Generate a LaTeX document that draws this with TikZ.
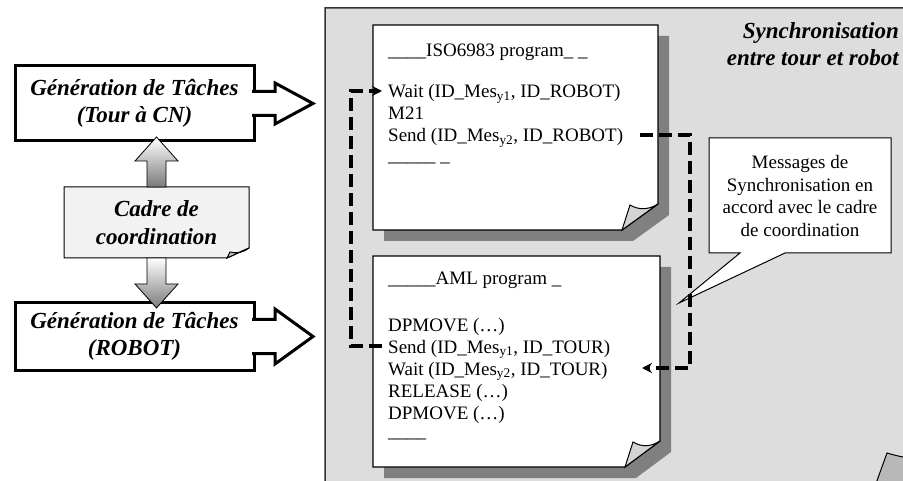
\documentclass[tikz,border=0pt]{standalone}
\usepackage{fontspec}
\setmainfont{Liberation Serif}
\usetikzlibrary{positioning, arrows.meta}

\begin{document}
\begin{tikzpicture}[x=1pt, y=-1pt,
  task/.style={draw, line width=3pt, fill=white, minimum width=239pt, outer sep=0pt, inner sep=0pt, align=center, font=\fontsize{23}{27.5}\selectfont\bfseries\itshape},
  taskout/.style={draw, fill=white, line width=3pt, line join=miter},
  fat/.style={draw=black, line width=0.8pt, top color=white, bottom color=black!52},
  panel/.style={fill=black!13.5, draw=black!80, line width=1.5pt},
  page/.style={draw=black, line width=1.3pt, fill=white},
  cadrepage/.style={draw=black, line width=1pt, fill=black!5},
  shadow/.style={fill=black!50},
  curl/.style={draw=black, line width=1pt, fill=black!17},
  bubble/.style={draw=black, line width=1pt, fill=white},
  code/.style={anchor=base west, inner sep=0pt, text height=14pt, text depth=0pt, font=\fontsize{19}{22}\selectfont},
  msgtext/.style={align=center, inner sep=0pt, font=\fontsize{19}{22.5}\selectfont},
  title/.style={align=right, inner sep=0pt, font=\fontsize{23}{26.5}\selectfont\bfseries\itshape},
  sync/.style={line width=3.2pt, dash pattern=on 13pt off 6pt, -{Stealth[length=10pt, width=10pt]}}]
  \useasboundingbox (0,0) rectangle (903,481);
  \clip (0,0) rectangle (903,481);
  % panel
  \draw[panel] (325,8) -- (960,8) -- (960,460) -- (870,500) -- (325,500) -- cycle;
  \draw[curl, fill=black!28] (870,500) -- (887,453) .. controls (910,460) and (935,462) .. (960,460) -- cycle;
  % ISO6983 page
  \fill[shadow] (384,36) -- (669,36) -- (669,215) -- (633,241) -- (384,241) -- cycle;
  \draw[page] (373,25) -- (658,25) -- (658,204) -- (622,230) -- (373,230) -- cycle;
  \draw[curl] (622,230) -- (630,205) .. controls (640,211) and (650,209) .. (658,204) -- cycle;
  % AML page
  \fill[shadow] (384,267) -- (671,267) -- (671,452) -- (636,478) -- (384,478) -- cycle;
  \draw[page] (373,256) -- (660,256) -- (660,441) -- (625,467) -- (373,467) -- cycle;
  \draw[curl] (625,467) -- (633,442) .. controls (643,448) and (652,446) .. (660,441) -- cycle;
  % callout
  \draw[bubble] (709,138) -- (891,138) -- (891,253) -- (785,253) -- (679,303) -- (740,253) -- (709,253) -- cycle;
  \node[msgtext] (msg) at (800,196) {Messages de\\Synchronisation en\\accord avec le cadre\\de coordination};
  \node[title, anchor=north east] (synchro) at (899,22.5) {Synchronisation\\entre tour et robot};
  % ISO6983 lines
  \node[code] (isoHead) at (388,57)  {\_\_\_\_ISO6983 program\_ \_};
  \node[code] (isoWait) at (388,98)  {Wait (ID\_Mes\textsubscript{y1}, ID\_ROBOT)};
  \node[code] (isoM)    at (388,120) {M21};
  \node[code] (isoSend) at (388,142) {Send (ID\_Mes\textsubscript{y2}, ID\_ROBOT)};
  \node[code, text height=6pt] (isoEnd) at (388,162) {\_\_\_\_\_ \_};
  % AML lines
  \node[code] (amlHead)  at (388,285) {\_\_\_\_\_AML program \_};
  \node[code] (amlMove)  at (388,331) {DPMOVE (…)};
  \node[code] (amlSend)  at (388,353) {Send (ID\_Mes\textsubscript{y1}, ID\_TOUR)};
  \node[code] (amlWait)  at (388,375) {Wait (ID\_Mes\textsubscript{y2}, ID\_TOUR)};
  \node[code] (amlRel)   at (388,397) {RELEASE (…)};
  \node[code] (amlMove2) at (388,419) {DPMOVE (…)};
  \node[code, text height=6pt] (amlEnd) at (388,437) {\_\_\_\_};
  % synchronisation messages
  \coordinate (lbend) at (351,0);  \coordinate (lend) at (382,0);
  \coordinate (rstart) at (640,0); \coordinate (rbend) at (690,0); \coordinate (rtip) at (642,0);
  \draw[sync] (amlSend.west -| lend) -- (amlSend.west -| lbend) -- (isoWait.west -| lbend) -- (isoWait.west -| lend);
  \draw[sync] (isoSend.east -| rstart) -- (isoSend.east -| rbend) -- (amlWait.east -| rbend) -- (amlWait.east -| rtip);
  % task generation
  \node[task, minimum height=75pt] (tour) at (134.5,103.5) {Génération de Tâches\\(Tour à CN)};
  \node[task, minimum height=67pt] (robot) at (134.5,336.5) {Génération de Tâches\\(ROBOT)};
  \filldraw[taskout] ([shift={(-2,-12)}]tour.east) -- ++(23,0) -- ++(0,-8.5) -- ++(38,20.5) -- ++(-38,20.5) -- ++(0,-8.5) -- ++(-23,0);
  \filldraw[taskout] ([shift={(-2,-17)}]robot.east) -- ++(23,0) -- ++(0,-10.5) -- ++(38,27.5) -- ++(-38,27.5) -- ++(0,-10.5) -- ++(-23,0);
  % coordination frame
  \draw[cadrepage] (64,187) -- (249,187) -- (249,248) -- (227,258) -- (64,258) -- cycle;
  \draw[curl, fill=black!25] (227,258) -- (230,252) .. controls (237,254) and (244,252) .. (249,248) -- cycle;
  \node[task, draw=none, fill=none, minimum width=185pt, minimum height=71pt] (cadre) at (156.5,222.5) {Cadre de\\coordination};
  \draw[fat] ([shift={(-9.5,0)}]cadre.north) -- ++(0,-26) -- ++(-12,0) -- ++(21.5,-24) -- ++(21.5,24) -- ++(-12,0) -- ([shift={(9.5,0)}]cadre.north) -- cycle;
  \draw[fat] ([shift={(-9.5,0)}]cadre.south) -- ++(0,26) -- ++(-12,0) -- ++(21.5,24) -- ++(21.5,-24) -- ++(-12,0) -- ([shift={(9.5,0)}]cadre.south) -- cycle;
\end{tikzpicture}
\end{document}
